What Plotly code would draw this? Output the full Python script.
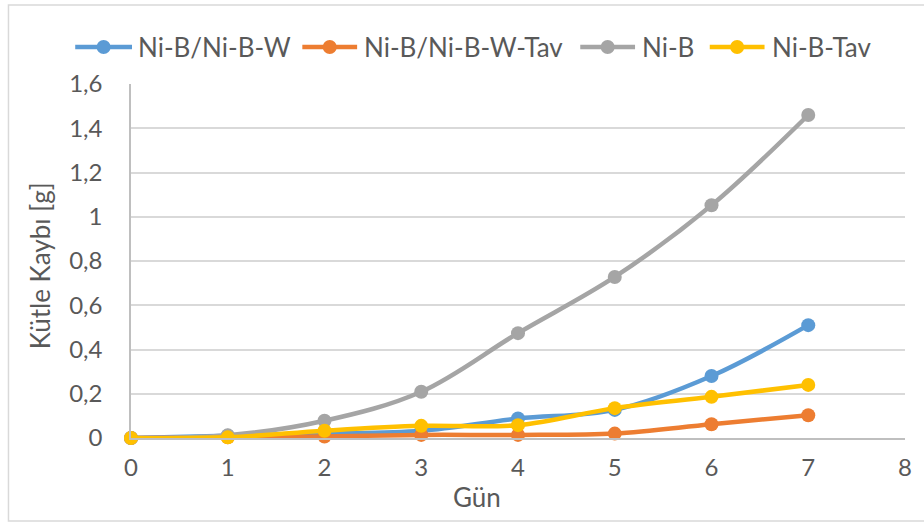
import plotly.graph_objects as go

# Mass loss per day for each coating
days = [0, 1, 2, 3, 4, 5, 6, 7]
ni_b_ni_b_w = [0.0, 0.010, 0.020, 0.033, 0.088, 0.127, 0.280, 0.510]
ni_b_ni_b_w_tav = [0.0, 0.003, 0.007, 0.014, 0.014, 0.020, 0.062, 0.103]
ni_b = [0.0, 0.012, 0.078, 0.209, 0.474, 0.728, 1.052, 1.460]
ni_b_tav = [0.0, 0.003, 0.033, 0.055, 0.058, 0.135, 0.186, 0.240]

series_names = ["Ni-B/Ni-B-W", "Ni-B/Ni-B-W-Tav", "Ni-B", "Ni-B-Tav"]
series_values = [ni_b_ni_b_w, ni_b_ni_b_w_tav, ni_b, ni_b_tav]
series_colors = ["#5B9BD5", "#ED7D31", "#A5A5A5", "#FFC000"]

x_ticks = [0, 1, 2, 3, 4, 5, 6, 7, 8]
y_ticks = [0, 0.2, 0.4, 0.6, 0.8, 1.0, 1.2, 1.4, 1.6]

W, H = 924, 523
L, R, T, B = 131, 16, 84, 85
pw, ph = W - L - R, H - T - B

def px_x(p):
    return (p - L) / pw

def px_y(p):
    return (H - B - p) / ph

font_family = "Lato, Open Sans, sans-serif"
text_color = "#595959"

fig = go.Figure()
for name, vals, col in zip(series_names, series_values, series_colors):
    fig.add_trace(go.Scatter(
        x=days, y=vals, name=name, mode="lines+markers",
        line=dict(color=col, width=4.5, shape="spline", smoothing=1),
        marker=dict(color=col, size=14),
        cliponaxis=False,
        showlegend=False,
    ))

# Legend row drawn as sample line + dot + label, left to right
legend_line_x = [(75, 132), (303, 358), (582, 637), (712, 767)]
legend_text_x = [136, 363, 642, 772]
legend_y = 47
shapes = [
    dict(type="rect", xref="paper", yref="paper",
         x0=px_x(8), x1=px_x(930), y0=px_y(521), y1=px_y(5),
         line=dict(color="#D9D9D9", width=1.5), fillcolor="rgba(0,0,0,0)",
         layer="below"),
]
annotations = []
for name, col, (lx0, lx1), tx in zip(series_names, series_colors, legend_line_x, legend_text_x):
    shapes.append(dict(type="line", xref="paper", yref="paper",
                       x0=px_x(lx0), x1=px_x(lx1), y0=px_y(legend_y), y1=px_y(legend_y),
                       line=dict(color=col, width=4.5)))
    cx = (lx0 + lx1) / 2
    shapes.append(dict(type="circle", xref="paper", yref="paper",
                       xsizemode="pixel", ysizemode="pixel",
                       xanchor=px_x(cx), yanchor=px_y(legend_y),
                       x0=-7, x1=7, y0=-7, y1=7,
                       fillcolor=col, line=dict(color=col, width=0)))
    annotations.append(dict(text=name, x=px_x(tx), y=px_y(legend_y),
                            xref="paper", yref="paper", showarrow=False,
                            xanchor="left", yanchor="middle",
                            font=dict(size=26, color=text_color)))

annotations += [
    dict(text="Gün", x=px_x(478), y=px_y(497), xref="paper", yref="paper",
         showarrow=False, font=dict(size=26, color=text_color),
         xanchor="center", yanchor="middle"),
    dict(text="Kütle Kaybı [g]", x=px_x(40), y=px_y(266), xref="paper", yref="paper",
         showarrow=False, textangle=-90, font=dict(size=26, color=text_color),
         xanchor="center", yanchor="middle"),
]

fig.update_layout(
    width=W, height=H,
    margin=dict(l=L, r=R, t=T, b=B),
    paper_bgcolor="white", plot_bgcolor="white",
    separators=",.",
    font=dict(family=font_family, size=24, color=text_color),
    showlegend=False,
    xaxis=dict(
        range=[0, 8], tickvals=x_ticks, ticks="", showgrid=False,
        showline=True, linecolor="#BFBFBF", linewidth=1.5,
        zeroline=False, tickfont=dict(size=24, color=text_color),
        ticklabelstandoff=7,
    ),
    yaxis=dict(
        range=[0, 1.6], tickvals=y_ticks, ticks="", showgrid=True,
        gridcolor="#D9D9D9", gridwidth=1.5,
        showline=True, linecolor="#BFBFBF", linewidth=1.5,
        zeroline=False, tickfont=dict(size=24, color=text_color),
        ticklabelstandoff=22,
    ),
    annotations=annotations,
    shapes=shapes,
)

fig.write_html("out.html")
